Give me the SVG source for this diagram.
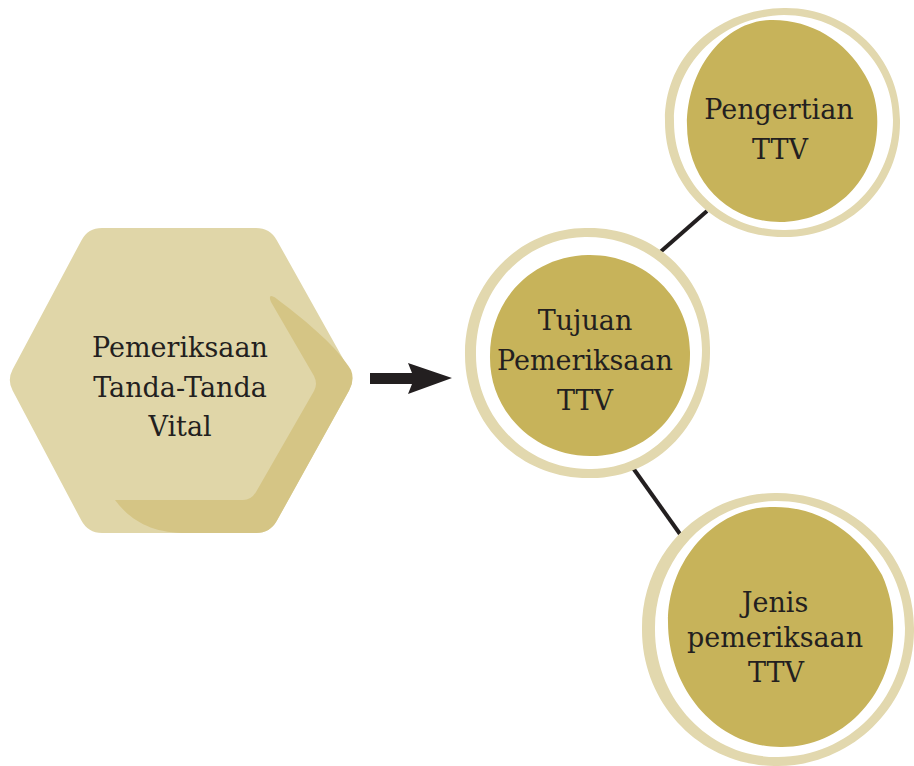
<svg xmlns="http://www.w3.org/2000/svg" width="914" height="766" viewBox="0 0 914 766">
  <style>
    .label { font-family: "DejaVu Serif", "Liberation Serif", serif; font-size: 27px; fill: #231F20; text-anchor: middle; }
    .hex { fill: #E0D6A8; }
    .hex-shade { fill: #D5C585; }
    .blob { fill: #C7B35A; }
    .ring { fill: #E2D8AE; fill-rule: evenodd; }
    .link { stroke: #231F20; stroke-width: 4; fill: none; }
    .arrow { fill: #231F20; }
  </style>

  <rect width="914" height="766" fill="#FFFFFF"/>

  <!-- connectors (drawn first so the rings sit over their ends) -->
  <g id="connectors">
    <line class="link" x1="658" y1="254" x2="707" y2="211"/>
    <line class="link" x1="633" y1="468" x2="680" y2="534"/>
    <path class="arrow" d="M370,373 L412,373 L408,363 L452,378 L408,394 L412,384 L370,384 Z"/>
  </g>

  <!-- main topic hexagon -->
  <g id="node-ttv">
    <path class="hex" d="M102,228 L256,228 Q270,228 276.8,240.2 L349.1,369.5 Q355,380 349.1,390.5 L276.8,520.8 Q270,533 256,533 L102,533 Q88,533 81.4,520.6 L12.6,390.6 Q7,380 12.6,369.4 L81.4,240.4 Q88,228 102,228 Z"/>
    <path class="hex-shade" d="M271,302 Q267,292 277,299 C310,324 338,348 351,370 Q355,380 349.1,390.5 L276.8,520.8 Q270,533 256,533 L182,533 C150,532 130,520 115,500 L243,500 Q251,500 256,492 L314,391 Q318,384 314,376 Z"/>
    <text class="label" x="180" y="357">Pemeriksaan</text>
    <text class="label" x="180" y="397">Tanda-Tanda</text>
    <text class="label" x="180" y="436">Vital</text>
  </g>

  <!-- centre circle: hand-drawn ring (outer contour + inner contour) and filled disc -->
  <g id="node-tujuan">
    <path class="ring" d="M585,228 C658,226 711,282 710,350 C711,422 657,479 590,478 C518,479 465,422 465,355 C464,287 516,229 585,228 Z M585,237 C651,236 702,288 702,350 C702,414 652,470 590,469 C525,470 476,416 476,355 C475,292 522,238 585,237 Z"/>
    <path class="blob" d="M588,255 C645,254 690,298 690,352 C691,410 648,456 592,456 C535,457 490,412 490,358 C489,300 532,256 588,255 Z"/>
    <text class="label" x="585" y="330">Tujuan</text>
    <text class="label" x="585" y="370">Pemeriksaan</text>
    <text class="label" x="585" y="410">TTV</text>
  </g>

  <!-- upper branch circle -->
  <g id="node-pengertian">
    <path class="ring" d="M784,8 C848,7 900,57 900,120 C901,186 850,237 785,237 C717,238 665,186 665,122 C664,57 716,9 784,8 Z M784,15 C844,15 893,62 893,120 C893,180 846,230 785,230 C723,231 674,182 674,122 C673,64 722,16 784,15 Z"/>
    <path class="blob" d="M770,20 C810,19 845,40 865,75 C877,95 878,115 877,130 C874,185 830,222 780,222 C727,222 687,180 687,125 C687,68 725,21 770,20 Z"/>
    <text class="label" x="779" y="119">Pengertian</text>
    <text class="label" x="780" y="159">TTV</text>
  </g>

  <!-- lower branch circle -->
  <g id="node-jenis">
    <path class="ring" d="M775,493 C850,492 914,552 914,628 C915,705 852,766 778,766 C702,767 642,705 642,630 C641,554 700,494 775,493 Z M775,501 C845,500 905,558 905,628 C905,700 848,757 778,757 C710,758 655,700 655,630 C654,561 707,502 775,501 Z"/>
    <path class="blob" d="M770,507 C820,505 860,535 882,575 C891,595 894,615 893,635 C890,697 842,747 782,747 C718,748 668,690 668,622 C668,560 715,508 770,507 Z"/>
    <text class="label" x="775" y="612">Jenis</text>
    <text class="label" x="775" y="647">pemeriksaan</text>
    <text class="label" x="776" y="682">TTV</text>
  </g>
</svg>
